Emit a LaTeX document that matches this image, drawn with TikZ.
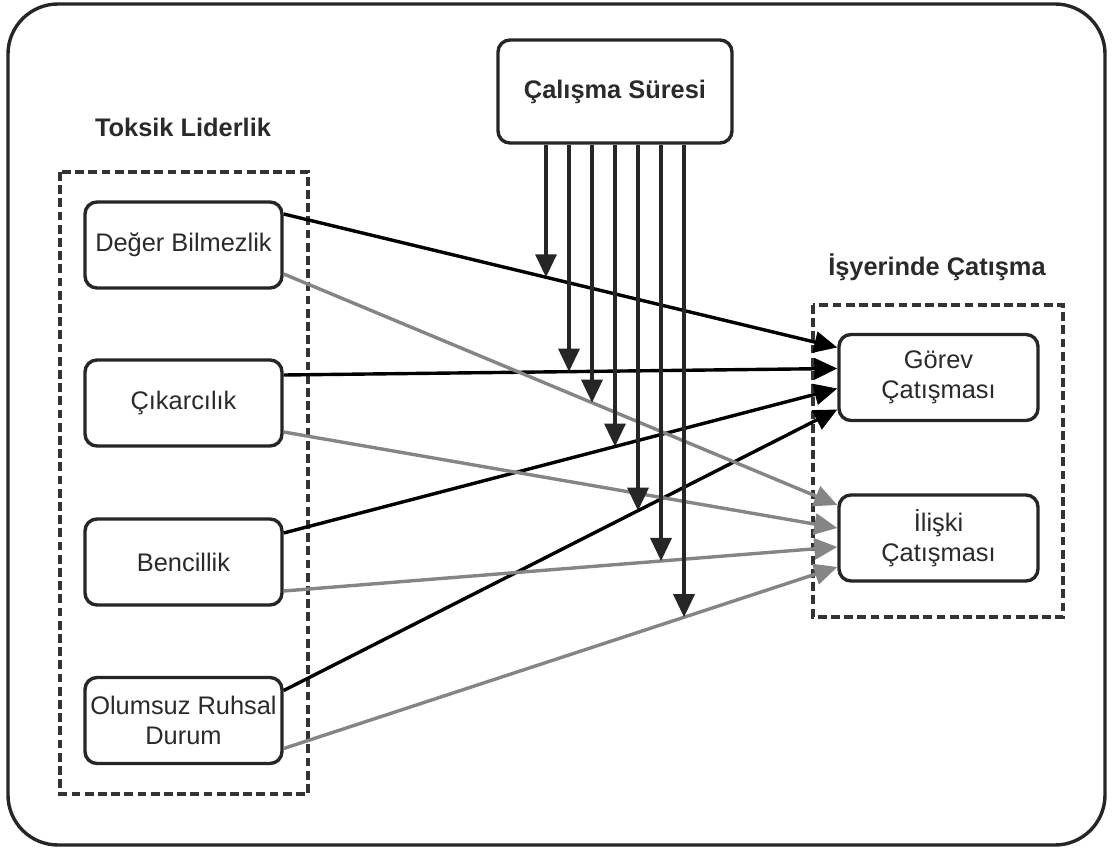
\documentclass[tikz,border=0pt]{standalone}
\usepackage{fontspec}
\setmainfont{Liberation Sans}
\usetikzlibrary{arrows.meta,calc,intersections}

\definecolor{txtgray}{HTML}{2A2A2A}
\definecolor{linegray}{HTML}{858585}
\definecolor{modgray}{HTML}{262626}

\tikzset{
    factor/.style={draw=black!85, line width=1.7pt, rounded corners=6pt,
        minimum width=98.5pt, minimum height=43pt, align=center, inner sep=2pt,
        text=txtgray, font=\fontsize{12.7}{15}\selectfont},
    grouplabel/.style={text=txtgray, font=\bfseries\fontsize{12.7}{15}\selectfont},
    groupbox/.style={draw=black!80, line width=1.8pt, dash pattern=on 4.4pt off 2.2pt},
    tip/.style={-{Triangle[length=11.5pt,width=10.5pt]}},
    taskarrow/.style={tip, draw=black, line width=1.7pt},
    relarrow/.style={tip, draw=linegray, line width=1.7pt},
    modarrow/.style={tip, draw=modgray, line width=1.7pt}
}

\begin{document}
\begin{tikzpicture}[x=0.5pt, y=-0.5pt]
    \useasboundingbox (0,0) rectangle (1113,850);
    \draw[line width=1.7pt, rounded corners=25pt, draw=black!85] (8,4) rectangle (1105,845);

    % moderator
    \node[factor, minimum width=117pt, minimum height=51.5pt,
        font=\bfseries\fontsize{12.7}{15}\selectfont] (cs) at (615,91.5) {Çalışma Süresi};

    % toksik liderlik
    \node[grouplabel] (tl) at (183,127) {Toksik Liderlik};
    \draw[groupbox] (60,172) rectangle (308,794);
    \node[factor] (dg) at (183.5,245) {Değer Bilmezlik};
    \node[factor] (ck) at (183.5,403) {Çıkarcılık};
    \node[factor] (bn) at (183.5,562) {Bencillik};
    \node[factor] (ol) at (183.5,720.5) {Olumsuz Ruhsal\\Durum};

    % isyerinde catisma
    \node[grouplabel] (ic) at (937,267) {İşyerinde Çatışma};
    \draw[groupbox] (813,305) rectangle (1063,617);
    \node[factor, minimum width=99.5pt] (gv) at (938.5,377.5) {Görev\\Çatışması};
    \node[factor, minimum width=99.5pt] (il) at (938.5,538) {İlişki\\Çatışması};

    % direct effects
    \draw[taskarrow, name path=dggv] ($(dg.east)+(0,-31)$) -- ($(gv.west)+(0,-30)$);
    \draw[taskarrow, name path=ckgv] ($(ck.east)+(0,-28)$) -- ($(gv.west)+(0,-9)$);
    \draw[taskarrow, name path=bngv] ($(bn.east)+(0,-29)$) -- ($(gv.west)+(0,11)$);
    \draw[taskarrow, name path=olgv] ($(ol.east)+(0,-30)$) -- ($(gv.west)+(0,32)$);
    \draw[relarrow, name path=dgil] ($(dg.east)+(0,29)$) -- ($(il.west)+(0,-33)$);
    \draw[relarrow, name path=ckil] ($(ck.east)+(0,29)$) -- ($(il.west)+(0,-10)$);
    \draw[relarrow, name path=bnil] ($(bn.east)+(0,29)$) -- ($(il.west)+(0,9)$);
    \draw[relarrow, name path=olil] ($(ol.east)+(0,28)$) -- ($(il.west)+(0,29)$);

    % moderating arrows
    \foreach \i/\dx/\p in {1/-69/dggv, 2/-46/ckgv, 3/-23/dgil, 4/0/bngv,
                            5/23/olgv, 6/46/bnil, 7/69/olil} {
        \coordinate (m\i) at ($(cs.south)+(\dx,0)$);
        \path[name path=vert\i] (m\i) -- ++(0,700);
        \draw[modarrow, name intersections={of={vert\i} and {\p}}] (m\i) -- (intersection-1);
    }
\end{tikzpicture}
\end{document}
